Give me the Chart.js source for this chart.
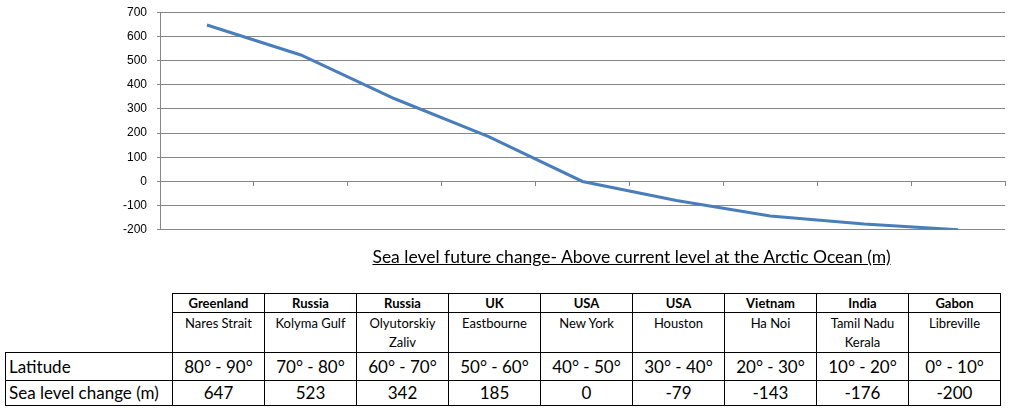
<!DOCTYPE html>
<html>
<head>
<meta charset="utf-8">
<script src="https://cdn.jsdelivr.net/npm/chart.js@4/dist/chart.umd.min.js"></script>
<style>
    body { margin: 0; background: #fff; width: 1016px; height: 411px; position: relative; overflow: hidden; }
    #wrap { position: absolute; left: 0; top: -5px; width: 1016px; height: 252px; }
    #title { position: absolute; left: 0; width: 1263px; top: 246px; text-align: center; font: 17.5px Lato, sans-serif; text-decoration: underline; color: #000; }
    #dataTable { position: absolute; left: 5px; top: 293px; width: 995px; border-collapse: collapse; font-family: Lato, sans-serif; color: #000; table-layout: fixed; }
    #dataTable td { border: 1px solid #000; text-align: center; padding: 0; overflow: hidden; box-sizing: border-box; }
    #dataTable td.blank { border: none; }
    #dataTable tr.country td { height: 19px; line-height: 18px; font-size: 13px; font-weight: bold; }
    #dataTable tr.place td { height: 38px; font-size: 13px; line-height: 19px; vertical-align: top; padding: 1px 4px 0 4px; }
    #dataTable tr.lat td { height: 28px; line-height: 20px; font-size: 17px; }
    #dataTable tr.sea td { height: 25px; line-height: 20px; font-size: 17px; }
    #dataTable td.rowlabel { text-align: left; padding-left: 3px; }
</style>
</head>
<body>
<div id="wrap"><canvas id="seaChart" width="1016" height="252"></canvas></div>
<div id="title">Sea level future change- Above current level at the Arctic Ocean (m)</div>
<table id="dataTable"><colgroup id="cols"></colgroup></table>

<script>
// data
const countries = ['Greenland', 'Russia', 'Russia', 'UK', 'USA', 'USA', 'Vietnam', 'India', 'Gabon'];
const places = ['Nares Strait', 'Kolyma Gulf', 'Olyutorskiy Zaliv', 'Eastbourne', 'New York', 'Houston', 'Ha Noi', 'Tamil Nadu Kerala', 'Libreville'];
const latitudes = ['80° - 90°', '70° - 80°', '60° - 70°', '50° - 60°', '40° - 50°', '30° - 40°', '20° - 30°', '10° - 20°', '0° - 10°'];
const seaLevel = [647, 523, 342, 185, 0, -79, -143, -176, -200];
const yTicks = { min: -200, max: 700, step: 100 };

// build the data table under the chart
const table = document.getElementById('dataTable');
const cols = document.getElementById('cols');
const firstCol = document.createElement('col');
firstCol.style.width = '167px';
cols.appendChild(firstCol);
countries.forEach(function () {
    const c = document.createElement('col');
    c.style.width = '92px';
    cols.appendChild(c);
});

function addRow(cls, label, values) {
    const tr = document.createElement('tr');
    tr.className = cls;
    const first = document.createElement('td');
    if (label === null) {
        first.className = 'blank';
    } else {
        first.className = 'rowlabel';
        first.textContent = label;
    }
    tr.appendChild(first);
    values.forEach(function (v) {
        const td = document.createElement('td');
        td.textContent = v;
        tr.appendChild(td);
    });
    table.appendChild(tr);
}
addRow('country', null, countries);
addRow('place', null, places);
addRow('lat', 'Latitude', latitudes);
addRow('sea', 'Sea level change (m)', seaLevel);

const axisGray = '#868686';

new Chart(document.getElementById('seaChart'), {
    type: 'line',
    data: {
        labels: latitudes,
        datasets: [{
            label: 'Sea level change (m)',
            data: seaLevel,
            borderColor: '#4a7ebb',
            borderWidth: 3,
            pointRadius: 0,
            tension: 0,
            fill: false
        }]
    },
    options: {
        responsive: false,
        animation: false,
        layout: { padding: { left: 0, top: 6, right: 11, bottom: 5 } },
        plugins: {
            legend: { display: false },
            tooltip: { enabled: false }
        },
        scales: {
            x: {
                position: { y: 0 },
                offset: true,
                grid: { offset: true, drawOnChartArea: false, drawTicks: true, tickLength: 4, color: axisGray },
                border: { display: true, color: axisGray },
                ticks: { display: false }
            },
            y: {
                min: yTicks.min,
                max: yTicks.max,
                afterFit: function (scale) { scale.width = 160; },
                grid: { color: axisGray, tickLength: 3 },
                border: { display: true, color: axisGray },
                ticks: {
                    stepSize: yTicks.step,
                    padding: 10,
                    color: '#000',
                    font: { family: 'Liberation Sans', size: 12 }
                }
            }
        }
    }
});
</script>
</body>
</html>
